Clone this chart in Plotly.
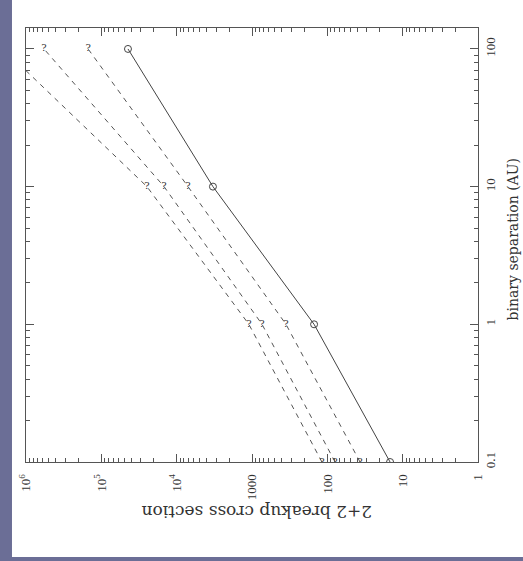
import plotly.graph_objects as go

# binary separation in AU (vertical axis, right side)
separation_au = [0.1, 1, 10, 100]

# 2+2 breakup cross sections for each curve
solid_sigma = [14.7, 150, 3300, 44300]
dashed_a_sigma = [36.8, 354, 7070, 150000]
dashed_b_sigma = [79, 736, 14700, 577000]
dashed_c_sigma = [118, 1100, 24800, 2000000]

# tick labels
sigma_ticks = [1e6, 1e5, 1e4, 1000, 100, 10, 1]
sigma_ticktext = ["10<sup>6</sup>", "10<sup>5</sup>", "10<sup>4</sup>", "1000", "100", "10", "1"]
sep_ticks = [0.1, 1, 10, 100]
sep_ticktext = ["0.1", "1", "10", "100"]

minor_sigma = [m * 10 ** e for e in range(0, 6) for m in range(2, 10)]
minor_sep = [m * 10 ** e for e in range(-1, 3) for m in range(2, 10)]

SERIF = "Liberation Serif"

fig = go.Figure()

for sig in (dashed_a_sigma, dashed_b_sigma, dashed_c_sigma):
    fig.add_trace(go.Scatter(
        x=sig, y=separation_au, mode="lines+text",
        text=["?"] * len(sig), textposition="middle center",
        textfont=dict(family="DejaVu Serif", size=10, color="#333"),
        line=dict(color="#555", width=1, dash="5px,5px"),
        showlegend=False, hoverinfo="x+y",
    ))

fig.add_trace(go.Scatter(
    x=solid_sigma, y=separation_au, mode="lines+markers",
    line=dict(color="#444", width=1),
    marker=dict(symbol="circle-open", size=7, color="#444", line=dict(width=1)),
    showlegend=False,
))

axis_common = dict(
    type="log", showgrid=False, zeroline=False,
    showline=True, linecolor="#555", linewidth=1, mirror="ticks",
    ticks="inside", ticklen=8, tickwidth=1, tickcolor="#555",
    tickangle=-90,
    tickfont=dict(family=SERIF, size=13, color="#333"),
)

fig.update_xaxes(
    **axis_common,
    range=[6, 0],
    tickvals=sigma_ticks, ticktext=sigma_ticktext,
    ticklabelstandoff=6,
    minor=dict(tickvals=minor_sigma, ticks="inside", ticklen=4,
               tickcolor="#555", showgrid=False),
)
fig.update_yaxes(
    **axis_common,
    side="right",
    range=[-1, 2.152],
    tickvals=sep_ticks, ticktext=sep_ticktext,
    minor=dict(tickvals=minor_sep, ticks="inside", ticklen=4,
               tickcolor="#555", showgrid=False),
)

fig.add_annotation(
    text="2+2 breakup cross section", xref="paper", yref="paper",
    x=0.51, y=-0.115, textangle=180, showarrow=False,
    xanchor="center", yanchor="middle",
    font=dict(family="DejaVu Serif", size=17, color="#333"),
)
fig.add_annotation(
    text="binary separation (AU)", xref="paper", yref="paper",
    x=1.0796, y=0.515, textangle=-90, showarrow=False,
    xanchor="center", yanchor="middle",
    font=dict(family="DejaVu Serif", size=14, color="#333"),
)

# white slide panel over the blue-grey backdrop
fig.add_shape(
    type="rect", xref="paper", yref="paper", layer="below",
    x0=-0.031, x1=1.2, y0=-0.219, y1=1.2,
    fillcolor="white", line=dict(width=0),
)

fig.update_layout(
    width=523, height=561,
    margin=dict(l=26, r=45, t=28, b=99),
    paper_bgcolor="#6b6e96",
    plot_bgcolor="white",
)

fig.write_html("out.html")
